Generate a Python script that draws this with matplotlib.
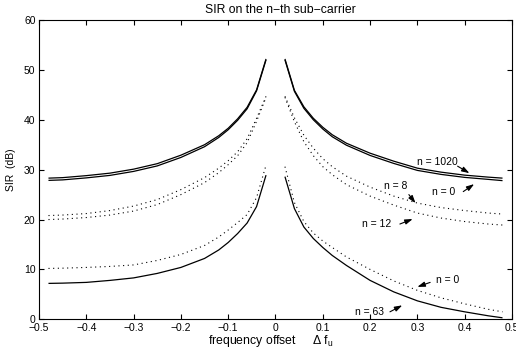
import numpy as np
import matplotlib
matplotlib.use("Agg")
import matplotlib.pyplot as plt

plt.rcParams['font.family'] = ['Liberation Sans', 'DejaVu Sans']
plt.rcParams['mathtext.fontset'] = 'custom'
plt.rcParams['mathtext.rm'] = 'Liberation Sans'
plt.rcParams['mathtext.it'] = 'Liberation Sans:italic'

# frequency offsets (normalised), left and right of the carrier
df_left = [-0.48, -0.45, -0.40, -0.35, -0.30, -0.25, -0.20, -0.15, -0.12, -0.10, -0.08, -0.06, -0.04, -0.02]
df_right = [0.02, 0.04, 0.06, 0.08, 0.10, 0.12, 0.15, 0.20, 0.25, 0.30, 0.35, 0.40, 0.45, 0.48]

# SIR in dB, upper solid pair
sir_1020_left = [28.3, 28.4, 28.8, 29.3, 30.1, 31.2, 32.9, 35.0, 36.8, 38.3, 40.2, 42.5, 46.0, 52.2]
sir_1020_right = [52.2, 45.9, 42.6, 40.3, 38.5, 37.0, 35.3, 33.3, 31.7, 30.3, 29.5, 28.9, 28.5, 28.3]
sir_top0_left = [27.85, 27.95, 28.35, 28.85, 29.65, 30.75, 32.45, 34.6, 36.45, 38.0, 39.9, 42.2, 45.8, 52.0]
sir_top0_right = [52.0, 45.7, 42.3, 40.0, 38.15, 36.6, 34.9, 32.85, 31.25, 29.85, 29.05, 28.45, 28.05, 27.8]

# middle dotted pair
sir_8_left = [20.8, 20.9, 21.2, 21.8, 22.7, 24.0, 26.0, 28.4, 30.3, 31.8, 33.6, 36.2, 40.3, 44.7]
sir_8_right = [44.7, 40.4, 36.9, 34.3, 32.2, 30.6, 28.7, 26.5, 24.7, 23.3, 22.4, 21.8, 21.3, 21.1]
sir_12_left = [20.0, 20.1, 20.4, 20.9, 21.7, 23.0, 25.0, 27.4, 29.4, 31.0, 32.8, 35.4, 39.7, 44.5]
sir_12_right = [44.5, 39.6, 35.6, 32.8, 30.6, 29.0, 27.0, 24.7, 22.9, 21.3, 20.3, 19.6, 19.1, 18.9]

# lower pair: dotted n = 0, solid n = 63
sir_low0_left = [10.2, 10.25, 10.4, 10.6, 10.9, 11.8, 13.0, 14.8, 16.5, 17.9, 19.4, 21.0, 24.4, 30.9]
sir_low0_right = [30.6, 23.4, 19.6, 17.3, 15.7, 14.4, 12.5, 10.0, 7.7, 5.8, 4.3, 3.1, 2.0, 1.5]
sir_63_left = [7.2, 7.25, 7.4, 7.8, 8.3, 9.2, 10.4, 12.2, 13.9, 15.4, 17.2, 19.3, 22.6, 28.9]
sir_63_right = [28.6, 22.2, 18.5, 16.2, 14.4, 12.8, 10.8, 7.8, 5.5, 3.7, 2.4, 1.5, 0.7, 0.3]

xticks = [-0.5, -0.4, -0.3, -0.2, -0.1, 0, 0.1, 0.2, 0.3, 0.4, 0.5]
xticklabels = ['\u22120.5', '\u22120.4', '\u22120.3', '\u22120.2', '\u22120.1', '0',
               '0.1', '0.2', '0.3', '0.4', '0.5']
yticks = [0, 10, 20, 30, 40, 50, 60]

fig = plt.figure(figsize=(5.16, 3.51), dpi=100)
ax = fig.add_axes([0.0756, 0.0903, 0.9166, 0.8527])

solid = dict(color='black', lw=0.9, solid_capstyle='butt')
dotted = dict(color='black', lw=0.8, linestyle=(0, (1, 3.2)))

for left, right, sty in [
    (sir_1020_left, sir_1020_right, solid),
    (sir_top0_left, sir_top0_right, solid),
    (sir_8_left, sir_8_right, dotted),
    (sir_12_left, sir_12_right, dotted),
    (sir_low0_left, sir_low0_right, dotted),
    (sir_63_left, sir_63_right, solid),
]:
    ax.plot(df_left, left, **sty)
    ax.plot(df_right, right, **sty)

ax.set_xlim(-0.5, 0.5)
ax.set_ylim(0, 60)
ax.set_xticks(xticks)
ax.set_xticklabels(xticklabels)
ax.set_yticks(yticks)
ax.tick_params(direction='in', length=3.5, width=0.8, labelsize=7.5,
               top=True, right=True, pad=2.5)
for s in ax.spines.values():
    s.set_linewidth(0.8)

fig.text(0.543, 0.972, 'SIR on the n\u2212th sub\u2212carrier', fontsize=8.8,
         ha='center', va='center')
fig.text(0.525, 0.028, 'frequency offset     \u0394 f$_{\\rm u}$', fontsize=8.8,
         ha='center', va='center')
ax.set_ylabel('SIR  (dB)', fontsize=7.5, labelpad=6)

arrow = dict(arrowstyle='-|>,head_length=0.45,head_width=0.15', color='black',
             lw=0.8, shrinkA=0, shrinkB=0)
labels = [
    ('n = 1020', (0.343, 31.6), (0.385, 30.7), (0.410, 29.3)),
    ('n = 0', (0.355, 25.5), (0.397, 25.6), (0.420, 27.1)),
    ('n = 8', (0.255, 26.8), (0.282, 25.0), (0.296, 23.3)),
    ('n = 12', (0.213, 19.1), (0.263, 19.1), (0.290, 20.1)),
    ('n = 0', (0.363, 7.9), (0.327, 7.4), (0.300, 6.5)),
    ('n = 63', (0.198, 1.5), (0.242, 1.5), (0.268, 2.8)),
]
for txt, pos, start, tip in labels:
    ax.text(pos[0], pos[1], txt, fontsize=7.5, ha='center', va='center')
    ax.annotate('', xy=tip, xytext=start, arrowprops=arrow)

fig.savefig('out.png', dpi=100)
